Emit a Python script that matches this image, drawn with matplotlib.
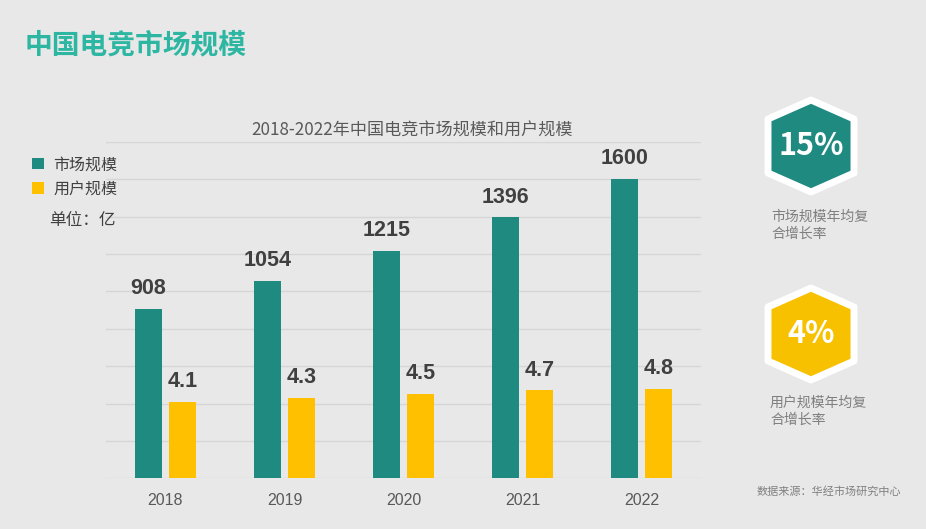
import matplotlib
matplotlib.use("Agg")
import matplotlib.pyplot as plt
from matplotlib.patches import Polygon
import numpy as np

plt.rcParams['font.family'] = ['Noto Sans CJK SC', 'DejaVu Sans']

years = ['2018', '2019', '2020', '2021', '2022']
market = [908, 1054, 1215, 1396, 1600]      # 市场规模 (亿)
users = [4.1, 4.3, 4.5, 4.7, 4.8]           # 用户规模 (亿)
market_labels = ['908', '1054', '1215', '1396', '1600']
user_labels = ['4.1', '4.3', '4.5', '4.7', '4.8']

bg = '#E8E8E8'
teal = '#1E8A80'
yellow = '#FFC000'
W, H = 926, 529

fig = plt.figure(figsize=(W / 100, H / 100), dpi=100, facecolor=bg)

# main chart axes (pixel box: x 106..701, y 142..478)
ax = fig.add_axes([106 / W, 1 - 478.3 / H, 595 / W, 336.6 / H])
ax.set_facecolor(bg)
ax2 = ax.twinx()

x = np.arange(len(years))
bw = 0.227
off = 0.143
b1 = ax.bar(x - off, market, bw, color=teal, zorder=3)
b2 = ax2.bar(x + off, users, bw, color=yellow, zorder=3)

ax.set_ylim(0, 1800)
ax2.set_ylim(0, 18)
ax.set_xlim(-0.5, 4.5)
ax.set_yticks(np.arange(0, 1801, 200))
ax.yaxis.grid(True, color='#D6D6D6', linewidth=1.0)
ax.set_axisbelow(True)
ax.tick_params(axis='y', left=False, labelleft=False)
ax2.tick_params(axis='y', right=False, labelright=False)
ax.set_xticks(x)
ax.set_xticklabels(years, fontsize=11.5, color='#595959',
                   family=['Liberation Sans', 'DejaVu Sans'])
ax.tick_params(axis='x', length=0, pad=10.5)
for a in (ax, ax2):
    for s in a.spines.values():
        s.set_visible(False)

lab_font = dict(family=['Liberation Sans', 'DejaVu Sans'], fontsize=15.5,
                fontweight='bold', color='#404040', ha='center', va='bottom')
for xi, v, t in zip(x, market, market_labels):
    ax.annotate(t, (xi - off, v), xytext=(0, 7), textcoords='offset points', **lab_font)
for xi, v, t in zip(x, users, user_labels):
    ax2.annotate(t, (xi + off, v), xytext=(0, 7), textcoords='offset points', **lab_font)

ax.set_title('2018-2022年中国电竞市场规模和用户规模', fontsize=12.3,
             color='#595959', pad=4, x=0.514)

# legend
fig.legend([b1, b2], ['市场规模', '用户规模'], loc='upper left',
           bbox_to_anchor=(26 / W, 1 - 150 / H), frameon=False,
           fontsize=11.5, labelcolor='#404040', handlelength=0.7,
           handleheight=0.7, handletextpad=0.6, labelspacing=0.45,
           borderaxespad=0)

# decoration layer in pixel coordinates
deco = fig.add_axes([0, 0, 1, 1])
deco.set_xlim(0, W)
deco.set_ylim(H, 0)
deco.axis('off')
deco.patch.set_visible(False)

deco.text(25, 45, '中国电竞市场规模', fontsize=20, fontweight='bold',
          color='#2DB7A3', ha='left', va='center')
deco.text(49, 220, '单位：亿', fontsize=12, color='#404040', ha='left', va='center')


def hexagon(cx, cy, color, label):
    w, h, s = 43, 46, 27
    pts = [(cx, cy - h), (cx + w, cy - s), (cx + w, cy + s),
           (cx, cy + h), (cx - w, cy + s), (cx - w, cy - s)]
    deco.add_patch(Polygon(pts, closed=True, facecolor=color, edgecolor='white',
                           linewidth=5, joinstyle='round'))
    deco.text(cx, cy, label, fontsize=22, fontweight='bold', color='white',
              ha='center', va='center')


hexagon(811, 146, teal, '15%')
hexagon(811, 334, '#F8C100', '4%')

cap = dict(fontsize=10, color='#7F7F7F', ha='left', va='center', fontweight='medium')
deco.text(771, 217, '市场规模年均复', **cap)
deco.text(771, 234, '合增长率', **cap)
deco.text(770, 403, '用户规模年均复', **cap)
deco.text(770, 420, '合增长率', **cap)
deco.text(757, 491, '数据来源：华经市场研究中心', fontsize=8, color='#808080',
          ha='left', va='center')

fig.savefig('out.png', dpi=100, facecolor=bg)
